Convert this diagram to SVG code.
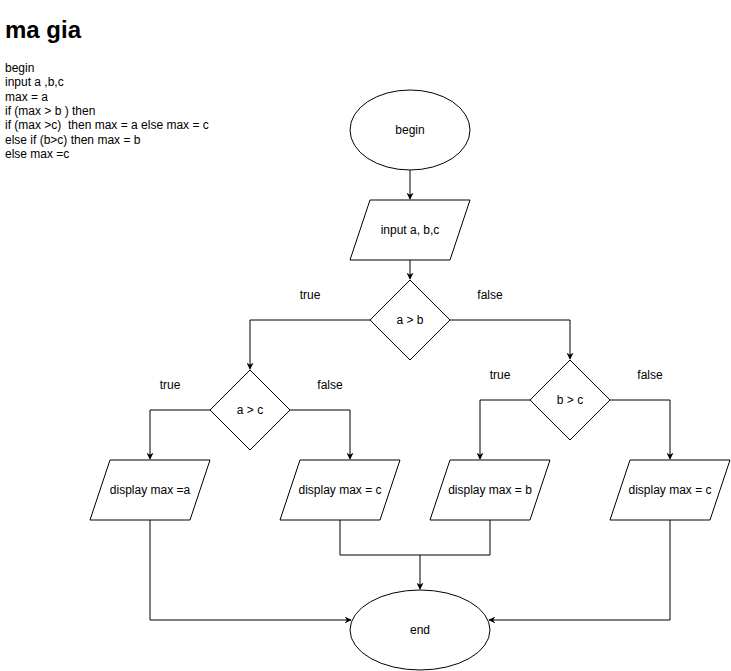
<svg xmlns="http://www.w3.org/2000/svg" width="731" height="671" viewBox="0 0 731 671">
<style>
.s{fill:#fff;stroke:#000;stroke-width:1}
.t{font-family:"Liberation Sans",Arial,sans-serif;font-size:12px;fill:#000;text-anchor:middle}
.l{font-family:"Liberation Sans",Arial,sans-serif;font-size:12px;fill:#000;white-space:pre}
.c{fill:none;stroke:#000;stroke-width:1}
</style>
<defs>
<marker id="a" viewBox="0 0 10 10" refX="9" refY="5" markerWidth="7" markerHeight="7" orient="auto" markerUnits="userSpaceOnUse">
<path d="M0,0 L10,5 L0,10 L3,5 Z" fill="#000"/>
</marker>
</defs>
<rect width="731" height="671" fill="#fff"/>
<g id="desc">
<text x="5" y="38" style="font-family:'Liberation Sans',Arial,sans-serif;font-size:24px;font-weight:bold">ma gia</text>
<text class="l" x="5" y="72" xml:space="preserve">begin</text>
<text class="l" x="5" y="86.3" xml:space="preserve">input a ,b,c</text>
<text class="l" x="5" y="100.6" xml:space="preserve">max = a</text>
<text class="l" x="5" y="115" xml:space="preserve">if (max &gt; b ) then</text>
<text class="l" x="5" y="129.3" xml:space="preserve">if (max &gt;c)  then max = a else max = c</text>
<text class="l" x="5" y="143.6" xml:space="preserve">else if (b&gt;c) then max = b</text>
<text class="l" x="5" y="158" xml:space="preserve">else max =c</text>
</g>
<g id="connectors">
<path class="c" d="M410,170 V199" marker-end="url(#a)"/>
<path class="c" d="M410,260 V279" marker-end="url(#a)"/>
<path class="c" d="M370,320 H250 V369" marker-end="url(#a)"/>
<path class="c" d="M450,320 H570 V359" marker-end="url(#a)"/>
<path class="c" d="M210,410 H150 V459" marker-end="url(#a)"/>
<path class="c" d="M290,410 H350 V459" marker-end="url(#a)"/>
<path class="c" d="M530,400 H480 V459" marker-end="url(#a)"/>
<path class="c" d="M610,400 H670 V459" marker-end="url(#a)"/>
<path class="c" d="M340,520 V555 H490 V520"/>
<path class="c" d="M420,555 V589" marker-end="url(#a)"/>
<path class="c" d="M150,520 V620 H351" marker-end="url(#a)"/>
<path class="c" d="M670,520 V620 H489" marker-end="url(#a)"/>
</g>
<g id="labels">
<text class="t" x="310" y="299">true</text>
<text class="t" x="490" y="299">false</text>
<text class="t" x="170" y="389">true</text>
<text class="t" x="330" y="389">false</text>
<text class="t" x="500" y="379">true</text>
<text class="t" x="650" y="379">false</text>
</g>
<g id="begin"><ellipse class="s" cx="410" cy="130" rx="60" ry="40"/><text class="t" x="410" y="134">begin</text></g>
<g id="input"><path class="s" d="M370,200 H470 L450,260 H350 Z"/><text class="t" x="410" y="234">input a, b,c</text></g>
<g id="dab"><path class="s" d="M410,280 L450,320 L410,360 L370,320 Z"/><text class="t" x="410" y="324">a &gt; b</text></g>
<g id="dac"><path class="s" d="M250,370 L290,410 L250,450 L210,410 Z"/><text class="t" x="250" y="414">a &gt; c</text></g>
<g id="dbc"><path class="s" d="M570,360 L610,400 L570,440 L530,400 Z"/><text class="t" x="570" y="404">b &gt; c</text></g>
<g id="outa"><path class="s" d="M110,460 H210 L190,520 H90 Z"/><text class="t" x="150" y="494">display max =a</text></g>
<g id="outc1"><path class="s" d="M300,460 H400 L380,520 H280 Z"/><text class="t" x="340" y="494">display max = c</text></g>
<g id="outb"><path class="s" d="M450,460 H550 L530,520 H430 Z"/><text class="t" x="490" y="494">display max = b</text></g>
<g id="outc2"><path class="s" d="M630,460 H730 L710,520 H610 Z"/><text class="t" x="670" y="494">display max = c</text></g>
<g id="end"><ellipse class="s" cx="420" cy="630" rx="70" ry="40"/><text class="t" x="420" y="634">end</text></g>
</svg>
